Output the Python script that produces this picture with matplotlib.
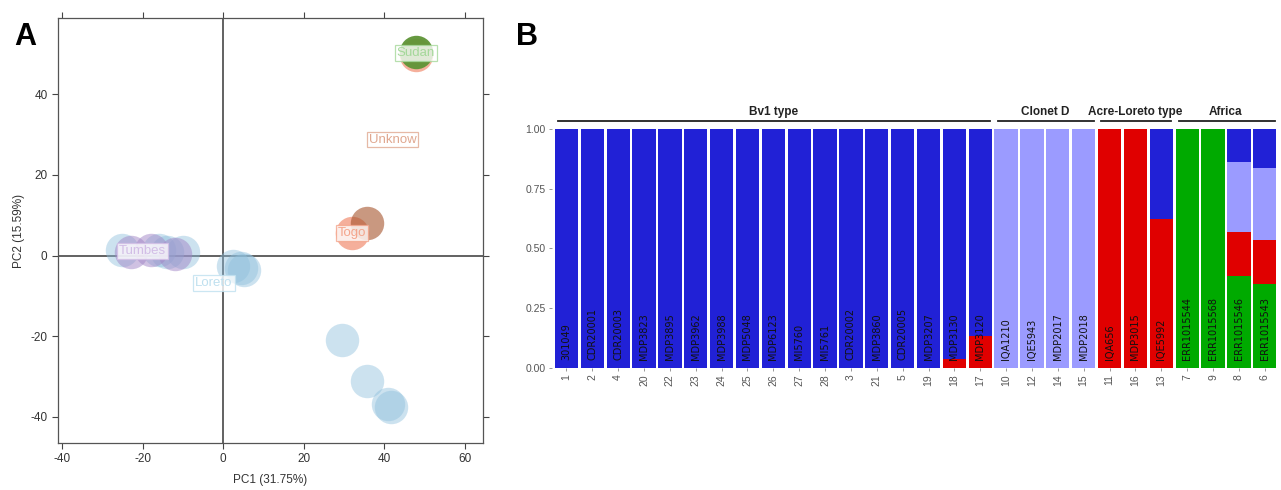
import numpy as np
import matplotlib.pyplot as plt

plt.rcParams['font.family'] = ['Liberation Sans', 'DejaVu Sans']
plt.rcParams['axes.unicode_minus'] = False

# ---- panel A: PCA ----
loreto_x = [-25, -16, -14, -10, 2.5, 4.5, 5.2, 29.6, 35.8, 40.8, 41.6]
loreto_y = [1.5, 1.5, 1.0, 1.0, -2.7, -3.2, -3.6, -21, -31, -36.8, -37.6]
tumbes_x = [-23, -18, -12]
tumbes_y = [1.0, 1.5, 0.5]
togo_x = [32, 47.8]
togo_y = [5.5, 49.8]
unknow_x = [35.8]
unknow_y = [8.2]
sudan_x = [47.8]
sudan_y = [50.4]

group_names = ['Loreto', 'Tumbes', 'Togo', 'Unknow', 'Sudan']
label_x = [-2.3, -20, 32, 42, 47.8]
label_y = [-6.9, 1.2, 5.5, 28.8, 50.2]

# ---- panel B: admixture ----
samples = ['301049', 'CDR20001', 'CDR20003', 'MDP3823', 'MDP3895', 'MDP3962', 'MDP3988',
           'MDP5048', 'MDP6123', 'MI5760', 'MI5761', 'CDR20002', 'MDP3860', 'CDR20005',
           'MDP3207', 'MDP3130', 'MDP3120', 'IQA1210', 'IQE5943', 'MDP2017', 'MDP2018',
           'IQA656', 'MDP3015', 'IQE5992', 'ERR1015544', 'ERR1015568', 'ERR1015546',
           'ERR1015543']
ids = ['1', '2', '4', '20', '22', '23', '24', '25', '26', '27', '28', '3', '21', '5',
       '19', '18', '17', '10', '12', '14', '15', '11', '16', '13', '7', '9', '8', '6']
green = [0]*24 + [1, 1, 0.383, 0.351]
red = [0]*15 + [0.038, 0.135] + [0]*4 + [1, 1, 0.623] + [0, 0, 0.184, 0.184]
lavender = [0]*17 + [1, 1, 1, 1] + [0]*3 + [0, 0, 0.294, 0.301]
blue = [1]*15 + [0.962, 0.865] + [0]*4 + [0, 0, 0.377] + [0, 0, 0.139, 0.164]

groups = ['Bv1 type', 'Clonet D', 'Acre-Loreto type', 'Africa']
group_start = [0, 17, 21, 24]
group_end = [16, 20, 23, 27]

fig = plt.figure(figsize=(12.81, 4.9), dpi=100)

# ---------- A ----------
ax = fig.add_axes([0.0453, 0.0959, 0.3318, 0.867])
ax.axhline(0, color='#555555', lw=1.3, zorder=1)
ax.axvline(0, color='#555555', lw=1.3, zorder=1)

ax.scatter(loreto_x, loreto_y, s=580, color='#8fc0dd', alpha=0.45, lw=0, zorder=2)
ax.scatter(tumbes_x, tumbes_y, s=580, color='#a185c6', alpha=0.5, lw=0, zorder=2)
ax.scatter(togo_x, togo_y, s=580, color='#ef7a58', alpha=0.6, lw=0, zorder=2)
ax.scatter(unknow_x, unknow_y, s=580, color='#a5532c', alpha=0.6, lw=0, zorder=3)
ax.scatter(sudan_x, sudan_y, s=580, color='#5e9436', alpha=0.95, lw=0, zorder=3)

label_cols = ['#bfe0ef', '#d2bde6', '#f4a58c', '#e0a890', '#a5d89a']
for name, lx, ly, c in zip(group_names, label_x, label_y, label_cols):
    ax.text(lx, ly, name, color=c, fontsize=9.5, ha='center', va='center', zorder=5,
            bbox=dict(boxstyle='square,pad=0.15', fc='white', ec=c, lw=0.9, alpha=0.8))

ax.set_xlim(-41, 64.5)
ax.set_ylim(-46.5, 58.9)
ax.set_xticks([-40, -20, 0, 20, 40, 60])
ax.set_yticks([-40, -20, 0, 20, 40])
ax.tick_params(direction='out', length=4, width=0.8, color='#444444', labelcolor='#333333',
               labelsize=8.5, top=True, right=True)
for sp in ax.spines.values():
    sp.set_color('#555555')
    sp.set_linewidth(0.9)
ax.set_xlabel('PC1 (31.75%)', fontsize=8.5, color='#333333', labelpad=6)
ax.set_ylabel('PC2 (15.59%)', fontsize=8.5, color='#333333', labelpad=4)

fig.text(0.011, 0.955, 'A', fontsize=22, fontweight='bold', va='top')
fig.text(0.403, 0.955, 'B', fontsize=22, fontweight='bold', va='top')

# ---------- B ----------
bx = fig.add_axes([0.4309, 0.249, 0.5675, 0.4878])
x = np.arange(len(samples))
bottom = np.zeros(len(samples))
for vals, c in [(green, '#00aa00'), (red, '#e00000'), (lavender, '#9b9bff'), (blue, '#2121d6')]:
    vals = np.array(vals)
    bx.bar(x, vals, width=0.9, bottom=bottom, color=c, lw=0)
    bottom += vals

for xi, s in zip(x, samples):
    bx.text(xi, 0.033, s, rotation=90, ha='center', va='bottom', fontsize=7,
            color='#111111', family='DejaVu Sans')

bx.set_xlim(-0.56, 27.55)
bx.set_ylim(0, 1)
bx.set_xticks(x)
bx.set_xticklabels(ids, rotation=90, fontsize=7.5, color='#555555')
bx.set_yticks([0, 0.25, 0.5, 0.75, 1.0])
bx.set_yticklabels(['0.00', '0.25', '0.50', '0.75', '1.00'], fontsize=7.5, color='#555555')
bx.tick_params(length=2.5, width=0.6, color='#888888', pad=2)
for sp in bx.spines.values():
    sp.set_visible(False)

for g, s0, s1 in zip(groups, group_start, group_end):
    bx.plot([s0 - 0.33, s1 + 0.38], [1.033, 1.033], color='#222222', lw=1.3, clip_on=False)
    bx.text((s0 + s1) / 2, 1.045, g, ha='center', va='bottom', fontsize=8.5,
            fontweight='bold', color='#222222', clip_on=False)

fig.savefig('out.png', dpi=100)
